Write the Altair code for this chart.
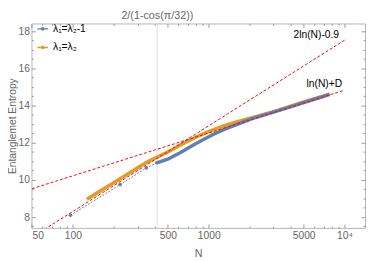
import altair as alt
import pandas as pd

# ---- data ----
orange_n = [127, 160, 200, 250, 300, 360, 415, 500, 621, 800, 1000, 1300, 1600, 2086, 3000, 4000, 5000, 6500, 7760]
orange_s = [8.96, 9.42, 9.85, 10.29, 10.66, 11.0, 11.22, 11.5, 11.88, 12.3, 12.6, 12.92, 13.12, 13.35, 13.68, 13.97, 14.2, 14.45, 14.62]

blue_n = [415, 500, 621, 800, 1077, 1300, 1850, 2086, 3000, 4000, 5000, 6500, 7760]
blue_s = [10.92, 11.12, 11.48, 11.95, 12.45, 12.72, 13.15, 13.3, 13.65, 13.93, 14.16, 14.42, 14.6]

blue_sparse_n = [96, 223, 348, 415]
blue_sparse_s = [8.1, 9.75, 10.65, 10.92]

fit1_n = [50, 10000]          # 2ln(N)-0.9
fit1_s = [6.92, 17.52]
fit2_n = [50, 10000]          # ln(N)+D
fit2_s = [9.53, 14.83]

label_text = ["2ln(N)-0.9", "ln(N)+D"]
label_n = [6190, 7100]
label_s = [17.79, 15.16]

series_names = ["λ₁=λ₂-1", "λ₁=λ₂"]
series_colors = ["#5E81B5", "#E19C24"]

x_major = [50, 100, 500, 1000, 5000, 10000]
x_minor = [60, 70, 80, 90, 200, 300, 400, 600, 700, 800, 900, 2000, 3000, 4000, 6000, 7000, 8000, 9000]
y_major = [8, 10, 12, 14, 16, 18]
y_minor = [7.5, 8.5, 9, 9.5, 10.5, 11, 11.5, 12.5, 13, 13.5, 14.5, 15, 15.5, 16.5, 17, 17.5]
special_n = [415.4]  # 2/(1-cos(pi/32))

X_DOM = [49.6, 14150]
Y_DOM = [7.42, 18.42]
FONT = "Liberation Sans"
GRAY = "#666666"
TICK = "#9a9a9a"

xs = alt.Scale(type="log", domain=X_DOM, nice=False)
ys = alt.Scale(domain=Y_DOM, nice=False, zero=False)

orange_df = pd.DataFrame({"N": orange_n, "S": orange_s, "series": series_names[1]})
blue_df = pd.DataFrame({"N": blue_n, "S": blue_s, "series": series_names[0]})
sparse_df = pd.DataFrame({"N": blue_sparse_n, "S": blue_sparse_s})
fit1_df = pd.DataFrame({"N": fit1_n, "S": fit1_s})
fit2_df = pd.DataFrame({"N": fit2_n, "S": fit2_s})
lab_df = pd.DataFrame({"N": label_n, "S": label_s, "t": label_text})

color = alt.Color("series:N", scale=alt.Scale(domain=series_names, range=series_colors),
                  legend=alt.Legend(orient="none", legendX=5, legendY=-1, title=None,
                                    symbolType="M-1,0H1M-0.22,0A0.22,0.22,0,1,1,0.22,0A0.22,0.22,0,1,1,-0.22,0",
                                    symbolSize=121, symbolStrokeWidth=1.4, labelFontSize=10.5,
                                    labelFont=FONT, labelColor="black", rowPadding=7, labelOffset=4))


def tick_axis(orient, values, size):
    return alt.Axis(orient=orient, values=values, offset=-size, tickSize=size, ticks=True,
                    labels=False, domain=False, grid=False, title=None, tickColor=TICK, tickWidth=1)


# layer 1: orange; carries labelled axes
l_orange = alt.Chart(orange_df).mark_line(strokeWidth=3.5).encode(
    x=alt.X("N:Q", scale=xs, axis=alt.Axis(orient="bottom", values=x_major, ticks=False, domain=False,
                                            grid=False, title="N", labelFontSize=10.5, labelColor=GRAY,
                                            labelFont=FONT, titleFont=FONT, titleFontSize=11,
                                            titleFontWeight="normal", titleColor=GRAY, labelPadding=3,
                                            titlePadding=7, format="d",
                                            labelExpr="datum.value == 10000 ? '10⁴' : datum.label")),
    y=alt.Y("S:Q", scale=ys, axis=alt.Axis(orient="left", values=y_major, ticks=False, domain=False,
                                            grid=False, title="Entanglemet Entropy", labelFontSize=10.5,
                                            labelColor=GRAY, labelFont=FONT, titleFont=FONT,
                                            titleFontSize=10.5, titleFontWeight="normal", titleColor=GRAY,
                                            labelPadding=2, titlePadding=1)),
    color=color,
)

l_blue = alt.Chart(blue_df).mark_line(strokeWidth=3.5).encode(
    x=alt.X("N:Q", scale=xs, axis=tick_axis("bottom", x_major, 4)),
    y=alt.Y("S:Q", scale=ys, axis=tick_axis("left", y_major, 4)),
    color=color,
)

l_sparse = alt.Chart(sparse_df).mark_line(strokeWidth=1, strokeDash=[2, 1.5], color=series_colors[0]).encode(
    x=alt.X("N:Q", scale=xs, axis=tick_axis("bottom", x_minor, 2)),
    y=alt.Y("S:Q", scale=ys, axis=tick_axis("left", y_minor, 2)),
)

l_points = alt.Chart(sparse_df).mark_point(filled=True, size=14, opacity=1, color=series_colors[0]).encode(
    x=alt.X("N:Q", scale=xs, axis=tick_axis("top", x_major, 4)),
    y=alt.Y("S:Q", scale=ys, axis=tick_axis("right", y_major, 4)),
)

l_fit1 = alt.Chart(fit1_df).mark_line(strokeWidth=1, strokeDash=[3, 2], color="#FF0000", clip=True).encode(
    x=alt.X("N:Q", scale=xs, axis=tick_axis("top", x_minor, 2)),
    y=alt.Y("S:Q", scale=ys, axis=tick_axis("right", y_minor, 2)),
)

l_fit2 = alt.Chart(fit2_df).mark_line(strokeWidth=1, strokeDash=[3, 2], color="#FF0000", clip=True).encode(
    x=alt.X("N:Q", scale=xs, axis=alt.Axis(orient="top", values=special_n, ticks=False, domain=False,
                                            grid=True, gridColor="#e4e4e4", gridWidth=1.2, title=None,
                                            labelFontSize=11, labelColor=GRAY, labelFont=FONT,
                                            labelPadding=3,
                                            labelExpr="'2/(1-cos(π/32))'")),
    y=alt.Y("S:Q", scale=ys, axis=None),
)

l_text = alt.Chart(lab_df).mark_text(fontSize=10.5, font=FONT, color="black").encode(
    x=alt.X("N:Q", scale=xs, axis=None),
    y=alt.Y("S:Q", scale=ys, axis=None),
    text="t:N",
)

chart = alt.layer(l_orange, l_blue, l_sparse, l_points, l_fit1, l_fit2, l_text).resolve_axis(
    x="independent", y="independent"
).properties(
    width=341, height=209,
    autosize=alt.AutoSizeParams(type="none"),
    padding={"left": 24, "top": 13, "right": 1, "bottom": 31},
).configure_view(stroke="#b5b5b5", strokeWidth=1)

chart.save("out.html", embed_options={"renderer": "svg", "actions": False})
